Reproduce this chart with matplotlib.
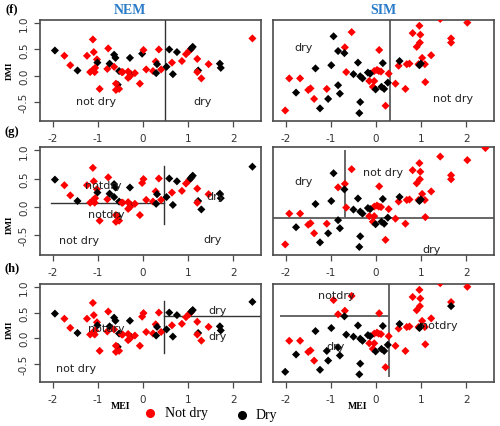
import numpy as np
import matplotlib.pyplot as plt

# NEM column: MEI (x) and DMI (y) values, same points in every row
nem_x = [-1.95, -1.74, -1.61, -1.45, -1.24, -1.11, -1.09, -1.02, -1.01, -1.17,
         -1.11, -1.07, -1.06, -0.96, -0.77, -0.79, -0.74, -0.64, -0.61, -0.64,
         -0.53, -0.56, -0.60, -0.60, -0.53, -0.47, -0.45, -0.29, -0.27, -0.33,
         -0.33, -0.29, -0.18, -0.07, -0.02, 0.01, 0.07, 0.22, 0.28, 0.31,
         0.29, 0.35, 0.40, 0.52, 0.58, 0.64, 0.66, 0.75, 0.86, 0.95,
         1.02, 1.05, 1.07, 1.10, 1.20, 1.22, 1.20, 1.29, 1.45, 1.70,
         1.72, 2.42]
nem_y = [0.48, 0.38, 0.20, 0.10, 0.38, 0.69, 0.45, 0.31, 0.25, 0.07,
         0.11, 0.07, 0.15, -0.25, 0.52, 0.13, 0.23, 0.40, 0.34, 0.17,
         0.09, -0.17, -0.15, -0.27, -0.25, 0.07, 0.07, 0.34, 0.03, 0.08,
         -0.04, -0.01, 0.05, -0.15, 0.42, 0.49, 0.12, 0.09, 0.27, 0.22,
         0.05, 0.50, 0.12, 0.17, 0.50, 0.25, 0.03, 0.45, 0.28, 0.41,
         0.47, 0.50, 0.52, 0.55, 0.32, 0.10, 0.07, -0.05, 0.22, 0.23,
         0.15, 0.71]
# indices of the "Dry" points in each row (all others are "Not dry")
nem_dry = [[0, 3, 8, 16, 17, 18, 20, 21, 27, 28, 34, 39, 40, 43, 44, 46, 47, 52, 53, 55, 59, 60],
           [0, 3, 8, 16, 17, 18, 19, 20, 21, 27, 28, 39, 40, 43, 44, 46, 47, 51, 52, 53, 55, 57, 59, 60, 61],
           [0, 3, 8, 16, 17, 18, 20, 21, 27, 28, 39, 40, 43, 44, 46, 47, 52, 53, 55, 59, 60, 61]]

# SIM column
sim_x = [-2.01, -1.92, -1.68, -1.50, -1.45, -1.37, -1.09, -0.69, -0.66, -0.54,
         -0.15, -0.04, -0.07, -0.04, 0.02, 0.07, 0.06, 0.11, 0.21, 0.28,
         0.43, 0.50, 0.65, 0.68, 0.74, 0.81, 0.90, 0.96, 0.98, 0.97,
         0.94, 1.02, 1.08, 1.09, 1.22, 1.42, 1.66, 1.66, 2.02, 2.42,
         -1.77, -1.34, -1.24, -1.06, -0.99, -0.94, -0.84, -0.84, -0.80, -0.70,
         -0.50, -0.40, -0.35, -0.30, -0.35, -0.37, -0.18, -0.13, -0.01, 0.12,
         0.18, 0.15, 0.26, 0.52, 0.96, 0.99]
sim_y = [-0.66, -0.05, -0.05, -0.27, -0.24, -0.44, -0.25, 0.54, 0.07, 0.83,
         -0.10, -0.10, -0.21, 0.09, 0.11, 0.49, 0.09, 0.08, -0.57, 0.04,
         -0.15, 0.19, -0.25, 0.22, 0.23, 0.81, 0.55, 0.95, 0.78, 0.63,
         0.22, 0.34, 0.22, -0.12, 0.39, 1.08, 0.71, 0.63, 1.01, 1.25,
         -0.32, 0.14, -0.62, -0.44, 0.20, 0.75, 0.47, -0.18, -0.34, 0.43,
         0.03, 0.25, -0.01, -0.05, -0.50, -0.71, 0.06, 0.04, -0.26, -0.21,
         -0.25, 0.24, -0.13, 0.28, 0.20, 0.23]
sim_dry = [list(range(40, 66)),
           [i for i in range(40, 66) if i != 46],
           [0, 6, 8, 37] + [i for i in range(40, 66) if i not in (45, 46)]]

row_tags = ["(f)", "(g)", "(h)"]
sim_ylims = [(-0.86, 1.06), (-0.87, 1.27), (-0.86, 1.065)]

# split lines per row: (x0, x1, y0, y1) segments in data units
nem_lines = [[(0.48, 0.48, -0.86, 1.06)],
             [(0.47, 0.47, -0.31, 0.72), (-2.04, 0.47, 0.07, 0.07)],
             [(0.47, 0.47, -0.30, 0.72), (0.47, 2.7, 0.43, 0.43)]]
sim_lines = [[(0.30, 0.30, -0.9, 1.3)],
             [(-0.68, -0.68, -0.145, 1.20), (-2.4, 2.7, -0.145, -0.145)],
             [(0.29, 0.29, -0.75, 1.07), (-2.11, 0.29, 0.44, 0.44)]]
nem_notes = [[(-1.04, -0.48, "not dry"), (1.31, -0.48, "dry")],
             [(-0.88, 0.39, "notdry"), (-0.82, -0.13, "notdry"), (-1.42, -0.59, "not dry"),
              (1.61, 0.18, "dry"), (1.53, -0.58, "dry")],
             [(-0.82, 0.20, "notdry"), (-1.48, -0.58, "not dry"), (1.64, 0.56, "dry"), (1.64, 0.05, "dry")]]
sim_notes = [[(-1.60, 0.55, "dry"), (1.70, -0.42, "not dry")],
             [(-1.60, 0.60, "dry"), (0.15, 0.78, "not dry"), (1.22, -0.76, "dry")],
             [(-0.89, 0.85, "notdry"), (-0.89, -0.16, "dry"), (1.41, 0.25, "notdry")]]

W, H = 500, 427
fig = plt.figure(figsize=(W / 100, H / 100), dpi=100)
rows_px = [(21, 122), (148, 256), (285, 383)]
cols_px = [(40, 261), (273, 494)]

frame = "#4a4a4a"
tick_col = "#333333"

for i, (top, bot) in enumerate(rows_px):
    for j, (left, right) in enumerate(cols_px):
        ax = fig.add_axes([left / W, 1 - bot / H, (right - left) / W, (bot - top) / H])
        if j == 0:
            xs, ys, dry, lines, notes = nem_x, nem_y, nem_dry[i], nem_lines[i], nem_notes[i]
            ylim = (-0.86, 1.06)
        else:
            xs, ys, dry, lines, notes = sim_x, sim_y, sim_dry[i], sim_lines[i], sim_notes[i]
            ylim = sim_ylims[i]
        cols = ["#000000" if k in dry else "#ff0000" for k in range(len(xs))]
        ax.scatter(xs, ys, c=cols, marker="D", s=17, linewidths=0, zorder=3)
        lc = "#333333" if j == 0 else "#666666"
        lw = 1.0 if j == 0 else 1.4
        for x0, x1, y0, y1 in lines:
            ax.plot([x0, x1], [y0, y1], color=lc, lw=lw, zorder=2)
        for tx, ty, s in notes:
            ax.text(tx, ty, s, fontsize=8, color="#222222", ha="center", va="center",
                    family="DejaVu Sans", zorder=4)
        ax.set_xlim(-2.28, 2.61)
        ax.set_ylim(*ylim)
        ax.set_xticks([-2, -1, 0, 1, 2])
        ax.set_xticklabels(["-2", "-1", "0", "1", "2"])
        ax.tick_params(axis="x", length=4, width=0.9, color=frame, labelsize=7.5,
                       labelcolor=tick_col, pad=5)
        if j == 0:
            ax.set_yticks([-0.5, 0.0, 0.5, 1.0])
            ax.set_yticklabels(["-0.5", "0.0", "0.5", "1.0"], rotation=90, va="center")
            ax.tick_params(axis="y", length=4, width=0.9, color=frame, labelsize=7.5,
                           labelcolor=tick_col, pad=4)
        else:
            ax.set_yticks([])
        for sp in ax.spines.values():
            sp.set_color(frame)
            sp.set_linewidth(1.2)

# titles, tags and axis names
fig.text(130 / W, 1 - 10 / H, "NEM", color="#2a7bc8", fontsize=10, fontweight="bold",
         family="Liberation Serif", ha="center", va="center")
fig.text(383 / W, 1 - 10 / H, "SIM", color="#2a7bc8", fontsize=10, fontweight="bold",
         family="Liberation Serif", ha="center", va="center")
for tag, ty in zip(row_tags, [9, 132, 268]):
    fig.text(12 / W, 1 - ty / H, tag, fontsize=9, fontweight="bold",
             family="Liberation Serif", ha="center", va="center")
for dy in [71, 225, 330]:
    fig.text(10 / W, 1 - dy / H, "DMI", fontsize=6.5, fontweight="bold", rotation=90,
             family="Liberation Serif", ha="center", va="center")
for mx in [121, 358]:
    fig.text(mx / W, 1 - 407 / H, "MEI", fontsize=7, fontweight="bold",
             family="Liberation Serif", ha="center", va="center")

# legend
fig.lines.append(plt.Line2D([150 / W], [1 - 414 / H], marker="o", color="#ff0000",
                            markersize=5.5, transform=fig.transFigure))
fig.text(165 / W, 1 - 414 / H, "Not dry", fontsize=10, family="Liberation Serif", va="center")
fig.lines.append(plt.Line2D([242 / W], [1 - 416 / H], marker="o", color="#000000",
                            markersize=5.5, transform=fig.transFigure))
fig.text(256 / W, 1 - 416 / H, "Dry", fontsize=10, family="Liberation Serif", va="center")

fig.savefig("out.png", dpi=100)
